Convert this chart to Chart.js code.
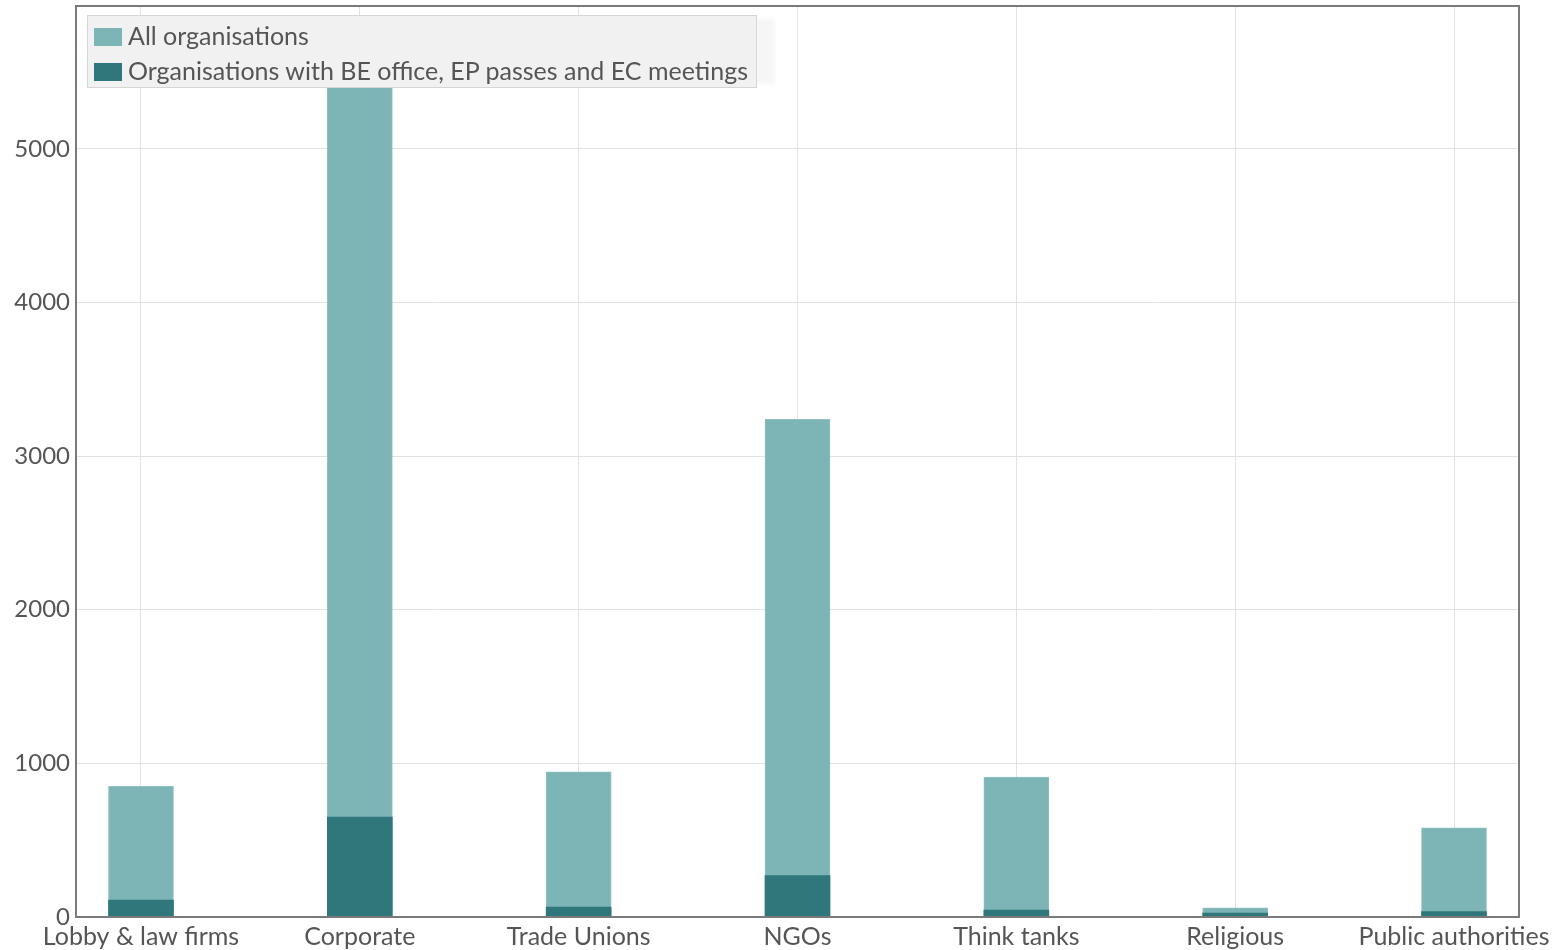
<!DOCTYPE html>
<html>
<head>
<meta charset="utf-8">
<script src="https://cdn.jsdelivr.net/npm/chart.js@4/dist/chart.umd.min.js"></script>
<style>
  body { margin: 0; background: #fff; }
  #wrap { position: relative; width: 1560px; height: 950px; }
  #legend {
    position: absolute; left: 87px; top: 15px; width: 670px; height: 73px;
    background: #f1f1f1; border: 1px solid #d6d6d6; box-sizing: border-box;
    font-family: Lato, sans-serif; font-size: 25px; color: #555;
    box-shadow: 22px 0 4px -4px #f6f6f6;
  }
  .item { position: absolute; left: 6px; height: 26px; line-height: 26px; white-space: nowrap; }
  .item span { display: inline-block; width: 28px; height: 18px; vertical-align: -1px; margin-right: 6px; }
</style>
</head>
<body>
<div id="wrap">
  <canvas id="chart" width="1560" height="950"></canvas>
  <div id="legend">
    <div class="item" style="top:6px"><span style="background:#7db4b6"></span>All organisations</div>
    <div class="item" style="top:41px"><span style="background:#2f777a"></span>Organisations with BE office, EP passes and EC meetings</div>
  </div>
</div>
<script>
document.addEventListener("DOMContentLoaded", () => {
  const categories = ["Lobby & law firms", "Corporate", "Trade Unions", "NGOs", "Think tanks", "Religious", "Public authorities"];
  const allOrgs = [850, 5420, 945, 3240, 910, 60, 580];
  const withOffice = [110, 650, 65, 270, 45, 25, 35];
  const yTicks = [0, 1000, 2000, 3000, 4000, 5000];

  const lightColor = "#7db4b6";
  const darkColor = "#2f777a";

  // outer frame round the plot area
  const frame = {
    id: "frame",
    afterDraw(chart) {
      const { ctx, chartArea: a } = chart;
      ctx.save();
      ctx.strokeStyle = "#7a7a7a";
      ctx.lineWidth = 2;
      ctx.strokeRect(a.left, a.top, a.right - a.left, a.bottom - a.top);
      ctx.restore();
    },
  };

  new Chart(document.getElementById("chart"), {
    type: "bar",
    data: {
      datasets: [
        {
          label: "Organisations with BE office, EP passes and EC meetings",
          data: withOffice.map((v, i) => ({ x: i, y: v })),
          backgroundColor: darkColor,
          grouped: false,
          barThickness: 65,
          order: 0,
        },
        {
          label: "All organisations",
          data: allOrgs.map((v, i) => ({ x: i, y: v })),
          backgroundColor: lightColor,
          borderColor: "#8fc0c2",
          borderWidth: 1,
          grouped: false,
          barThickness: 65,
          order: 1,
        },
      ],
    },
    options: {
      responsive: false,
      animation: false,
      devicePixelRatio: 1,
      layout: { padding: { left: 0, right: 41, top: 6, bottom: 0 } },
      plugins: { legend: { display: false }, tooltip: { enabled: false } },
      scales: {
        x: {
          type: "linear",
          offset: false,
          min: -0.297,
          max: 6.297,
          afterBuildTicks: (s) => { s.ticks = categories.map((c, i) => ({ value: i })); },
          afterFit: (s) => { s.height = 33; s.paddingLeft = 0; s.paddingRight = 0; },
          ticks: {
            autoSkip: false,
            maxRotation: 0,
            padding: 5,
            color: "#555",
            font: { family: "Lato", size: 25 },
            callback: (v) => categories[v],
          },
          grid: { color: "#e2e2e2", drawTicks: false, offset: false },
          border: { display: false },
        },
        y: {
          min: 0,
          max: 5930,
          afterBuildTicks: (s) => { s.ticks = yTicks.map((v) => ({ value: v })); },
          afterFit: (s) => { s.width = 76; s.paddingTop = 0; s.paddingBottom = 0; },
          ticks: {
            padding: 6,
            color: "#555",
            font: { family: "Lato", size: 24 },
            callback: (v) => String(v),
          },
          grid: { color: "#e2e2e2", drawTicks: false },
          border: { display: false },
        },
      },
    },
    plugins: [frame],
  });
});
</script>
</body>
</html>
